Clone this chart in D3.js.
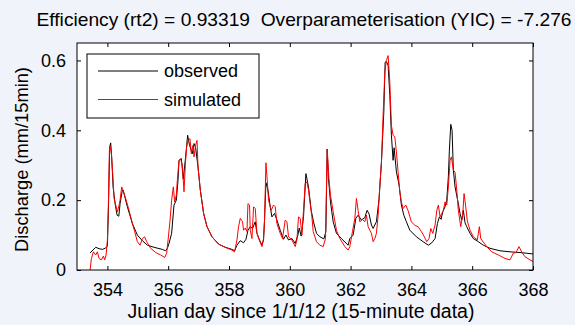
<!DOCTYPE html>
<html>
<head>
<meta charset="utf-8">
<script src="https://cdn.jsdelivr.net/npm/d3@7"></script>
<style>
  html, body { margin: 0; padding: 0; background: #f0f3f9; }
  svg { display: block; }
  text { white-space: pre; }
</style>
</head>
<body>
<svg id="chart"></svg>
<script>
// Julian day / discharge pairs
const obsDay = [353.431, 353.616, 353.727, 353.836, 353.944, 354.0, 354.033, 354.076, 354.108, 354.141,
  354.187, 354.253, 354.319, 354.375, 354.417, 354.483, 354.516, 354.657, 354.822, 354.986,
  355.150, 355.314, 355.535, 355.807, 355.916, 355.972, 356.027, 356.113, 356.191, 356.267,
  356.323, 356.356, 356.432, 356.497, 356.573, 356.639, 356.695, 356.793, 356.849, 356.902,
  356.981, 357.056, 357.165, 357.277, 357.441, 357.658, 357.878, 358.098, 358.183, 358.262,
  358.371, 358.479, 358.558, 358.624, 358.699, 358.775, 358.863, 358.919, 358.995, 359.084,
  359.136, 359.169, 359.215, 359.281, 359.356, 359.412, 359.498, 359.576, 359.685, 359.793,
  359.872, 359.958, 360.070, 360.178, 360.267, 360.310, 360.375, 360.451, 360.530, 360.615,
  360.704, 360.780, 360.878, 360.990, 361.121, 361.187, 361.230, 361.272, 361.338, 361.427,
  361.535, 361.699, 361.919, 361.975, 362.083, 362.172, 362.248, 362.356, 362.468, 362.543,
  362.609, 362.685, 362.741, 362.849, 362.938, 363.014, 363.093, 363.136, 363.178, 363.234,
  363.290, 363.342, 363.398, 363.431, 363.507, 363.596, 363.671, 363.750, 363.836, 363.948,
  364.165, 364.385, 364.559, 364.671, 364.779, 364.855, 364.921, 364.976, 365.032, 365.107,
  365.163, 365.216, 365.249, 365.295, 365.338, 365.380, 365.436, 365.544, 365.600, 365.656,
  365.709, 365.765, 365.821, 365.929, 366.038, 366.202, 366.366, 366.587, 366.915, 367.244,
  367.572, 367.792, 368.0];
const obsQ = [0.049, 0.065, 0.061, 0.059, 0.063, 0.069, 0.171, 0.352, 0.364, 0.324,
  0.238, 0.19, 0.157, 0.154, 0.19, 0.224, 0.229, 0.181, 0.133, 0.1,
  0.084, 0.071, 0.065, 0.059, 0.055, 0.062, 0.076, 0.105, 0.186, 0.2,
  0.257, 0.314, 0.319, 0.26, 0.324, 0.386, 0.36, 0.333, 0.362, 0.35,
  0.295, 0.229, 0.162, 0.124, 0.095, 0.074, 0.065, 0.059, 0.055, 0.071,
  0.084, 0.078, 0.088, 0.114, 0.124, 0.119, 0.138, 0.105, 0.088, 0.071,
  0.086, 0.143, 0.25, 0.229, 0.181, 0.152, 0.162, 0.143, 0.114, 0.088,
  0.1, 0.086, 0.09, 0.076, 0.1, 0.12, 0.097, 0.152, 0.276, 0.238,
  0.171, 0.138, 0.105, 0.095, 0.089, 0.11, 0.346, 0.262, 0.195, 0.138,
  0.105, 0.09, 0.071, 0.09, 0.1, 0.148, 0.157, 0.143, 0.15, 0.171,
  0.16, 0.129, 0.119, 0.138, 0.205, 0.309, 0.452, 0.595, 0.597, 0.586,
  0.5, 0.386, 0.314, 0.35, 0.281, 0.243, 0.186, 0.157, 0.138, 0.114,
  0.095, 0.081, 0.071, 0.078, 0.09, 0.133, 0.152, 0.145, 0.167, 0.181,
  0.2, 0.267, 0.343, 0.417, 0.4, 0.286, 0.238, 0.19, 0.162, 0.143,
  0.171, 0.135, 0.124, 0.105, 0.09, 0.081, 0.071, 0.062, 0.055, 0.052,
  0.05, 0.048, 0.046];

const simDay = [353.431, 353.474, 353.540, 353.616, 353.671, 353.727, 353.803, 353.869, 353.911, 353.957,
  354.0, 354.033, 354.066, 354.099, 354.131, 354.174, 354.220, 354.273, 354.329, 354.371,
  354.417, 354.470, 354.526, 354.601, 354.713, 354.822, 354.898, 354.986, 355.075, 355.150,
  355.226, 355.292, 355.423, 355.588, 355.752, 355.884, 355.950, 355.996, 356.062, 356.113,
  356.169, 356.212, 356.267, 356.300, 356.356, 356.409, 356.465, 356.520, 356.563, 356.606,
  356.652, 356.717, 356.760, 356.816, 356.849, 356.902, 356.948, 356.981, 357.056, 357.165,
  357.277, 357.441, 357.658, 357.878, 358.098, 358.183, 358.262, 358.314, 358.371, 358.446,
  358.479, 358.535, 358.591, 358.624, 358.676, 358.699, 358.755, 358.808, 358.863, 358.919,
  358.995, 359.084, 359.136, 359.169, 359.215, 359.258, 359.300, 359.389, 359.465, 359.521,
  359.576, 359.685, 359.760, 359.849, 359.905, 359.958, 360.070, 360.178, 360.234, 360.286,
  360.342, 360.398, 360.451, 360.507, 360.563, 360.615, 360.671, 360.727, 360.770, 360.878,
  360.990, 361.098, 361.174, 361.230, 361.286, 361.338, 361.427, 361.535, 361.647, 361.811,
  361.919, 361.975, 362.061, 362.140, 362.192, 362.248, 362.304, 362.389, 362.468, 362.520,
  362.576, 362.632, 362.685, 362.741, 362.797, 362.849, 362.906, 362.961, 363.014, 363.070,
  363.126, 363.178, 363.234, 363.290, 363.342, 363.398, 363.454, 363.507, 363.563, 363.618,
  363.671, 363.727, 363.816, 363.891, 364.000, 364.112, 364.220, 364.329, 364.395, 364.506,
  364.581, 364.637, 364.703, 364.779, 364.835, 364.887, 364.943, 364.999, 365.051, 365.107,
  365.163, 365.216, 365.272, 365.315, 365.380, 365.436, 365.492, 365.544, 365.623, 365.689,
  365.732, 365.788, 365.840, 365.929, 366.038, 366.169, 366.235, 366.281, 366.366, 366.478,
  366.642, 366.859, 367.079, 367.244, 367.352, 367.441, 367.539, 367.638, 367.737, 367.901,
  368.0];
const simQ = [0, 0.033, 0.052, 0.043, 0.052, 0.033, 0.029, 0.04, 0.029, 0.043,
  0.086, 0.19, 0.343, 0.354, 0.333, 0.276, 0.205, 0.186, 0.167, 0.181,
  0.2, 0.238, 0.225, 0.205, 0.171, 0.133, 0.11, 0.081, 0.071, 0.09,
  0.095, 0.081, 0.062, 0.05, 0.043, 0.036, 0.048, 0.086, 0.143, 0.2,
  0.238, 0.195, 0.214, 0.257, 0.314, 0.318, 0.3, 0.224, 0.3, 0.352,
  0.371, 0.376, 0.333, 0.357, 0.324, 0.357, 0.371, 0.295, 0.229, 0.162,
  0.124, 0.095, 0.074, 0.065, 0.057, 0.052, 0.086, 0.124, 0.148, 0.138,
  0.114, 0.12, 0.11, 0.19, 0.186, 0.114, 0.09, 0.181, 0.176, 0.105,
  0.086, 0.067, 0.09, 0.143, 0.307, 0.257, 0.2, 0.171, 0.186, 0.181,
  0.133, 0.105, 0.09, 0.143, 0.138, 0.095, 0.086, 0.067, 0.086, 0.152,
  0.148, 0.1, 0.171, 0.248, 0.252, 0.229, 0.19, 0.152, 0.11, 0.081,
  0.071, 0.067, 0.09, 0.346, 0.262, 0.214, 0.167, 0.114, 0.09, 0.067,
  0.057, 0.067, 0.11, 0.148, 0.205, 0.17, 0.138, 0.145, 0.138, 0.157,
  0.124, 0.114, 0.105, 0.081, 0.09, 0.105, 0.157, 0.243, 0.305, 0.445,
  0.567, 0.6, 0.614, 0.538, 0.414, 0.386, 0.381, 0.338, 0.28, 0.224,
  0.195, 0.176, 0.186, 0.17, 0.138, 0.128, 0.124, 0.11, 0.1, 0.081,
  0.09, 0.119, 0.105, 0.129, 0.171, 0.186, 0.152, 0.162, 0.17, 0.195,
  0.186, 0.238, 0.314, 0.324, 0.286, 0.28, 0.229, 0.171, 0.124, 0.16,
  0.219, 0.181, 0.14, 0.114, 0.095, 0.086, 0.124, 0.09, 0.08, 0.067,
  0.052, 0.043, 0.033, 0.029, 0.048, 0.05, 0.067, 0.05, 0.038, 0.029,
  0.024];

const xTicks = [354, 356, 358, 360, 362, 364, 366, 368];
const yTicks = [0, 0.2, 0.4, 0.6];
const seriesNames = ["observed", "simulated"];
const seriesColors = ["#000000", "#ff0000"];
const titleText = "Efficiency (rt2) = 0.93319  Overparameterisation (YIC) = -7.276";

const W = 575, H = 325;
const margin = { top: 43, right: 42, bottom: 55, left: 77 };
const width = W - margin.left - margin.right;
const height = H - margin.top - margin.bottom;
const font = "'Liberation Sans', Arial, sans-serif";

const svg = d3.select("#chart").attr("width", W).attr("height", H)
    .style("font-family", font);

const x = d3.scaleLinear().domain([353, 368]).range([0, width]);
const y = d3.scaleLinear().domain([0, 0.65]).range([height, 0]);

const g = svg.append("g").attr("transform", `translate(${margin.left},${margin.top})`);

g.append("rect").attr("width", width).attr("height", height).attr("fill", "#fff");

g.append("clipPath").attr("id", "clip")
    .append("rect").attr("width", width).attr("height", height);

const line = d3.line().x(d => x(d[0])).y(d => y(d[1]));
const series = [d3.zip(obsDay, obsQ), d3.zip(simDay, simQ)];

g.append("g").attr("clip-path", "url(#clip)")
    .selectAll("path")
    .data(series)
    .join("path")
    .attr("fill", "none")
    .attr("stroke", (d, i) => seriesColors[i])
    .attr("stroke-width", 1)
    .attr("stroke-linejoin", "round")
    .attr("d", line);

// inward ticks on all four sides, MATLAB style
const styleAxis = sel => {
    sel.select(".domain").remove();
    sel.selectAll("text").attr("font-size", 18).attr("fill", "#000").attr("font-family", font);
    sel.selectAll("line").attr("stroke", "#000");
};

g.append("g").attr("transform", `translate(0,${height})`)
    .call(d3.axisBottom(x).tickValues(xTicks).tickSize(-4).tickPadding(13).tickFormat(d3.format("d")))
    .call(styleAxis);
g.append("g")
    .call(d3.axisTop(x).tickValues(xTicks).tickSize(-4).tickFormat(""))
    .call(styleAxis);
g.append("g")
    .call(d3.axisLeft(y).tickValues(yTicks).tickSize(-4).tickPadding(11).tickFormat(d => d === 0 ? "0" : d3.format(".1f")(d)))
    .call(styleAxis);
g.append("g").attr("transform", `translate(${width},0)`)
    .call(d3.axisRight(y).tickValues(yTicks).tickSize(-4).tickFormat(""))
    .call(styleAxis);

g.append("rect").attr("width", width).attr("height", height)
    .attr("fill", "none").attr("stroke", "#000").attr("stroke-width", 1);

// legend
const lg = g.append("g").attr("transform", "translate(10,11)");
lg.append("rect").attr("width", 172).attr("height", 64)
    .attr("fill", "#fff").attr("stroke", "#000");
seriesNames.forEach((name, i) => {
    const ly = 17 + i * 28.5;
    lg.append("line").attr("x1", 11).attr("x2", 71).attr("y1", ly).attr("y2", ly)
        .attr("stroke", seriesColors[i]).attr("stroke-width", 1);
    lg.append("text").attr("x", 77).attr("y", ly).attr("dy", "0.35em")
        .attr("font-size", 18).text(name);
});

// title and axis labels
svg.append("text").attr("x", 304).attr("y", 26)
    .attr("text-anchor", "middle").attr("font-size", 18.5)
    .attr("textLength", 535).attr("lengthAdjust", "spacingAndGlyphs")
    .text(titleText);

svg.append("text").attr("x", 301).attr("y", 318)
    .attr("text-anchor", "middle").attr("font-size", 19.5)
    .text("Julian day since 1/1/12 (15-minute data)");

svg.append("text")
    .attr("transform", `translate(28,${margin.top + height / 2 + 3}) rotate(-90)`)
    .attr("text-anchor", "middle").attr("font-size", 18.3)
    .text("Discharge (mm/15min)");
</script>
</body>
</html>
